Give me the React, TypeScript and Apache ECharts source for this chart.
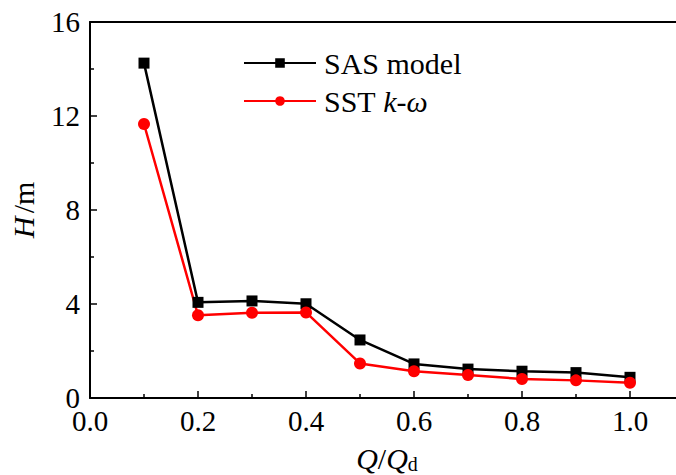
import React, { useEffect, useRef } from "react";
import * as echarts from "echarts";

// Flow-rate ratio Q/Qd and head H (m) from the two turbulence models
const flowRatio = [0.1, 0.2, 0.3, 0.4, 0.5, 0.6, 0.7, 0.8, 0.9, 1.0];
const sasHead = [14.25, 4.07, 4.13, 4.01, 2.47, 1.45, 1.23, 1.14, 1.08, 0.88];
const sstHead = [11.66, 3.52, 3.63, 3.64, 1.47, 1.14, 0.98, 0.81, 0.75, 0.65];
const seriesNames = ["SAS model", "SST k-ω"];

const FONT = "'Liberation Serif', 'Times New Roman', serif";

export default function App() {
  const ref = useRef<HTMLDivElement>(null);

  useEffect(() => {
    if (!ref.current) return;
    const chart = echarts.init(ref.current, undefined, { renderer: "svg" });
    const axisText = { fontFamily: FONT, fontSize: 29, color: "#000" };

    chart.setOption({
      animation: false,
      backgroundColor: "#fff",
      grid: {
        left: 90,
        top: 22,
        width: 594,
        height: 376,
        containLabel: false,
        outerBoundsMode: "none",
      },
      legend: {
        orient: "vertical",
        left: 243,
        top: 48,
        padding: 0,
        itemWidth: 72,
        itemHeight: 12,
        itemGap: 8,
        data: seriesNames,
        formatter: (name: string) =>
          name === "SST k-ω" ? "{n|SST }{i|k}{n|-}{i|ω}" : "{n|" + name + "}",
        textStyle: {
          fontFamily: FONT,
          fontSize: 30,
          color: "#000",
          padding: [0, 0, 0, 3],
          rich: {
            n: { fontFamily: FONT, fontSize: 30, color: "#000", lineHeight: 30 },
            i: { fontFamily: FONT, fontSize: 30, color: "#000", fontStyle: "italic", lineHeight: 30 },
          },
        },
      },
      xAxis: [
        {
          type: "value",
          min: 0,
          max: 1.1,
          interval: 0.2,
          position: "bottom",
          name: "{i|Q}{n|/}{i|Q}{s|d}",
          nameLocation: "middle",
          nameGap: 44,
          nameTextStyle: {
            rich: {
              i: { fontFamily: FONT, fontSize: 30, fontStyle: "italic", color: "#000" },
              n: { fontFamily: FONT, fontSize: 30, color: "#000" },
              s: { fontFamily: FONT, fontSize: 20, color: "#000", verticalAlign: "bottom", padding: [12, 0, 0, 0] },
            },
          },
          axisLine: { show: true, lineStyle: { color: "#000", width: 2 } },
          axisTick: { show: true, inside: true, length: 7, lineStyle: { color: "#000", width: 1.5 } },
          minorTick: { show: true, splitNumber: 2, length: 4, lineStyle: { color: "#000", width: 1.5 } },
          splitLine: { show: false },
          axisLabel: {
            ...axisText,
            lineHeight: 22,
            margin: 12,
            formatter: (v: number) => (v > 1.05 ? "" : v.toFixed(1)),
          },
        },
        {
          type: "value",
          min: 0,
          max: 1.1,
          position: "top",
          axisLine: { show: true, lineStyle: { color: "#000", width: 2 } },
          axisTick: { show: false },
          axisLabel: { show: false },
          splitLine: { show: false },
        },
      ],
      yAxis: {
        type: "value",
        min: 0,
        max: 16,
        interval: 4,
        name: "{i|H} {n|/m}",
        nameLocation: "middle",
        nameGap: 52,
        nameRotate: 90,
        nameTextStyle: {
          rich: {
            i: { fontFamily: FONT, fontSize: 30, fontStyle: "italic", color: "#000" },
            n: { fontFamily: FONT, fontSize: 30, color: "#000" },
          },
        },
        axisLine: { show: true, lineStyle: { color: "#000", width: 2 } },
        axisTick: { show: true, inside: true, length: 7, lineStyle: { color: "#000", width: 1.5 } },
        minorTick: { show: true, splitNumber: 2, length: 4, lineStyle: { color: "#000", width: 1.5 } },
        splitLine: { show: false },
        axisLabel: { ...axisText, lineHeight: 20, margin: 10 },
      },
      series: [
        {
          name: seriesNames[0],
          type: "line",
          data: flowRatio.map((q, i) => [q, sasHead[i]]),
          symbol: "rect",
          symbolSize: 11,
          itemStyle: { color: "#000" },
          lineStyle: { color: "#000", width: 2.5 },
        },
        {
          name: seriesNames[1],
          type: "line",
          data: flowRatio.map((q, i) => [q, sstHead[i]]),
          symbol: "circle",
          symbolSize: 12,
          itemStyle: { color: "#ff0000" },
          lineStyle: { color: "#ff0000", width: 2.5 },
        },
      ],
    });

    return () => chart.dispose();
  }, []);

  return (
    <div
      ref={ref}
      style={{ position: "absolute", left: 0, top: 0, width: 676, height: 475, overflow: "hidden" }}
    />
  );
}
